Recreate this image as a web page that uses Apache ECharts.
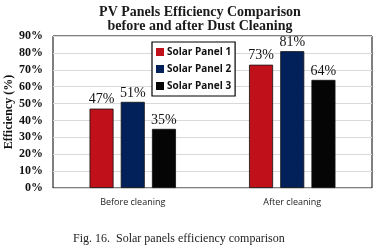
<!DOCTYPE html>
<html><head><meta charset="utf-8">
<script src="https://cdn.jsdelivr.net/npm/echarts@6/dist/echarts.min.js"></script>
<style>html,body{margin:0;padding:0;background:#fff}#c{width:384px;height:251px}</style>
</head><body><div id="c"></div>
<script>
var categories = ['Before cleaning', 'After cleaning'];
var panel1 = [47, 73];
var panel2 = [51, 81];
var panel3 = [35, 64];
var seriesNames = ['Solar Panel 1', 'Solar Panel 2', 'Solar Panel 3'];
var colors = ['#C0101A', '#02205A', '#050505'];

var chart = echarts.init(document.getElementById('c'));
function mk(name, data, color) {
  return {
    name: name, type: 'bar', data: data, barWidth: 24, barGap: '30%',
    itemStyle: { color: color, borderColor: '#111', borderWidth: 0.8 },
    label: { show: true, position: 'top', formatter: '{c}%', fontFamily: 'Liberation Serif', fontSize: 14, color: '#111', distance: 2 }
  };
}
chart.setOption({
  animation: false,
  title: {
    text: 'PV Panels Efficiency Comparison\nbefore and after Dust Cleaning',
    left: 195, top: 0, textAlign: 'center',
    textStyle: { fontFamily: 'Liberation Serif', fontWeight: 'bold', fontSize: 14, lineHeight: 14, color: '#1a1a1a' }
  },
  graphic: [{
    type: 'text', left: 73, top: 233, style: {
      text: 'Fig. 16.  Solar panels efficiency comparison',
      font: '12px "Liberation Serif"', fill: '#222'
    }
  }],
  legend: {
    orient: 'vertical', left: 152, top: 42, itemWidth: 8, itemHeight: 8, itemGap: 7,
    padding: [5, 4, 5, 4], borderColor: '#000', borderWidth: 1.2, backgroundColor: '#fff',
    icon: 'rect', itemStyle: { borderWidth: 0 },
    textStyle: { fontFamily: 'Open Sans', fontWeight: 'bold', fontSize: 10, color: '#111', padding: [0, 0, 0, -2] },
    data: seriesNames
  },
  grid: { left: 53, right: 12, top: 36, bottom: 63, show: true, borderColor: '#000', borderWidth: 1, outerBoundsMode: 'none', containLabel: false },
  xAxis: {
    type: 'category', data: categories,
    axisLine: { show: false }, axisTick: { show: false },
    axisLabel: { fontFamily: 'Open Sans', fontSize: 9, color: '#222', margin: 10 }
  },
  yAxis: {
    type: 'value', min: 0, max: 90, interval: 10,
    name: 'Efficiency (%)', nameLocation: 'middle', nameGap: 38, nameRotate: 90, nameMoveOverlap: false,
    nameTextStyle: { fontFamily: 'Liberation Serif', fontWeight: 'bold', fontSize: 12, color: '#111' },
    axisLabel: { formatter: '{value}%', fontFamily: 'Liberation Serif', fontWeight: 'bold', fontSize: 12, color: '#111', margin: 10 },
    splitLine: { lineStyle: { color: '#d9d9d9', width: 1 } },
    axisLine: { show: false }, axisTick: { show: false }
  },
  series: [mk(seriesNames[0], panel1, colors[0]), mk(seriesNames[1], panel2, colors[1]), mk(seriesNames[2], panel3, colors[2])]
});
</script></body></html>
